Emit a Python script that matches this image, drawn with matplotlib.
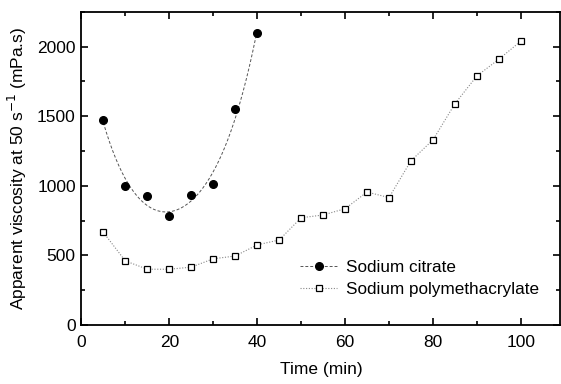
import numpy as np
import matplotlib.pyplot as plt
from matplotlib.ticker import MultipleLocator

plt.rcParams['font.family'] = ['Liberation Sans', 'DejaVu Sans']

# data
time_citrate = [5, 10, 15, 20, 25, 30, 35, 40]
visc_citrate = [1470, 995, 925, 780, 935, 1015, 1550, 2100]

time_pma = [5, 10, 15, 20, 25, 30, 35, 40, 45, 50,
            55, 60, 65, 70, 75, 80, 85, 90, 95, 100]
visc_pma = [665, 460, 400, 400, 415, 475, 495, 575, 610, 770,
            790, 835, 955, 915, 1180, 1330, 1590, 1790, 1910, 2040]

fig = plt.figure(figsize=(5.61, 3.84), dpi=100)
ax = fig.add_axes([0.145, 0.154, 0.854, 0.815])

# smooth fit for the citrate series
coef = np.polyfit(time_citrate, visc_citrate, 4)
tt = np.linspace(time_citrate[0], time_citrate[-1], 200)
ax.plot(tt, np.polyval(coef, tt), linestyle=(0, (3, 2)), lw=0.7, color='#555555')
ax.plot(time_citrate, visc_citrate, 'o', color='black', markersize=5.5)
ax.plot([], [], linestyle=(0, (3, 2)), lw=0.7, color='#555555', marker='o',
        markersize=5.5, markerfacecolor='black', markeredgecolor='black',
        label='Sodium citrate')

ax.plot(time_pma, visc_pma, linestyle=(0, (1, 1.5)), lw=0.8, color='#888888',
        marker='s', markersize=4.8, markerfacecolor='white',
        markeredgecolor='black', markeredgewidth=0.9,
        label='Sodium polymethacrylate')

ax.set_xlim(0, 109)
ax.set_ylim(0, 2250)
ax.xaxis.set_major_locator(MultipleLocator(20))
ax.xaxis.set_minor_locator(MultipleLocator(10))
ax.yaxis.set_major_locator(MultipleLocator(500))
ax.yaxis.set_minor_locator(MultipleLocator(250))
ax.tick_params(which='both', direction='in', top=True, right=True,
               labelsize=12.5, width=1.2)
ax.tick_params(axis='x', pad=7)
ax.tick_params(axis='y', pad=4)
ax.tick_params(which='major', length=5)
ax.tick_params(which='minor', length=3)
for s in ax.spines.values():
    s.set_linewidth(1.3)

ax.set_xlabel('Time (min)', fontsize=12.5, labelpad=9)
ax.set_ylabel('Apparent viscosity at 50 s$^{-1}$ (mPa.s)', fontsize=12.5,
              labelpad=6)

ax.legend(loc='center left', bbox_to_anchor=(0.424, 0.1475), frameon=False,
          fontsize=12.3, handlelength=2.2, handletextpad=0.5,
          labelspacing=0.4)

fig.savefig('out.png', dpi=100)
